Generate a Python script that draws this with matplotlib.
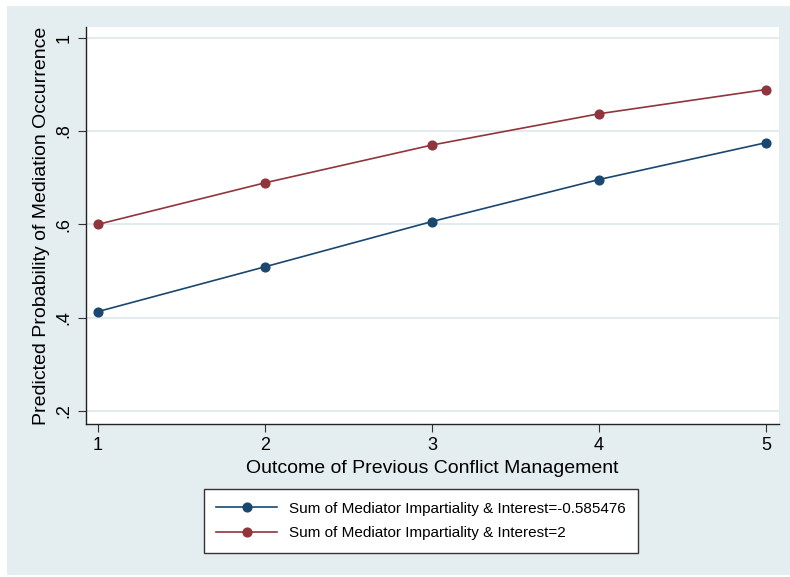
import matplotlib.pyplot as plt
from matplotlib.patches import Rectangle

# data
outcome = [1, 2, 3, 4, 5]
prob_low = [0.413, 0.509, 0.606, 0.696, 0.775]
prob_high = [0.600, 0.689, 0.770, 0.837, 0.889]
labels = ["Sum of Mediator Impartiality & Interest=-0.585476",
          "Sum of Mediator Impartiality & Interest=2"]
yticks = [0.2, 0.4, 0.6, 0.8, 1.0]
ytick_labels = [".2", ".4", ".6", ".8", "1"]

bg = "#e4edf0"
navy = "#1a476f"
maroon = "#90353b"

plt.rcParams['font.family'] = ['Liberation Sans', 'DejaVu Sans']

fig = plt.figure(figsize=(7.9, 5.77), dpi=100, facecolor="white")
# grey panel with thin white edge on left/top/bottom
panel = Rectangle((7 / 790, 2 / 577), 1, 1 - 8 / 577,
                  transform=fig.transFigure, facecolor=bg,
                  edgecolor="none", zorder=-10)
fig.add_artist(panel)

ax = fig.add_axes([86 / 790, 1 - 424 / 577, (779 - 86) / 790, (424 - 27) / 577])
ax.set_facecolor("white")

ax.plot(outcome, prob_low, "-o", color=navy, lw=1.2, ms=6.3, label=labels[0], zorder=3)
ax.plot(outcome, prob_high, "-o", color=maroon, lw=1.2, ms=6.3, label=labels[1], zorder=3)

ax.set_xlim(0.928, 5.078)
ax.set_ylim(0.172, 1.023)
ax.set_xticks(outcome)
ax.set_yticks(yticks)
ax.set_yticklabels(ytick_labels, rotation=90, va="center")
ax.tick_params(axis="both", labelsize=13, length=6, color="#333333")
ax.grid(axis="y", color="#dde9ee", lw=1.2)
ax.set_axisbelow(True)

for s in ["top", "right"]:
    ax.spines[s].set_visible(False)
for s in ["left", "bottom"]:
    ax.spines[s].set_color("#222222")
    ax.spines[s].set_linewidth(1.0)

ax.set_xlabel("Outcome of Previous Conflict Management", fontsize=14, labelpad=4)
ax.set_ylabel("Predicted Probability of Mediation Occurrence", fontsize=14, labelpad=4)

leg = fig.legend(loc="center", bbox_to_anchor=(421 / 790, 1 - 521 / 577),
                 fontsize=11, frameon=True, fancybox=False, edgecolor="#333333",
                 facecolor="white", framealpha=1,
                 handlelength=4, borderpad=0.8, labelspacing=0.7)
leg.get_frame().set_linewidth(1.0)

fig.savefig("out.png", dpi=100, facecolor=fig.get_facecolor())
